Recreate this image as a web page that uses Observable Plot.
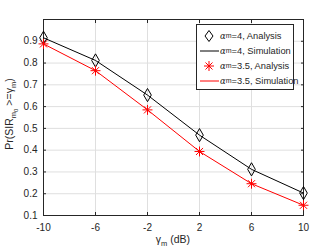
<!DOCTYPE html>
<html><head><meta charset="utf-8">
<script src="https://cdn.jsdelivr.net/npm/d3@7"></script>
<script src="https://cdn.jsdelivr.net/npm/@observablehq/plot@0.6"></script>
<style>
body{margin:0;background:#fff;}
#wrap{position:relative;width:333px;height:250px;font-family:"Liberation Sans",Arial,sans-serif;color:#262626;}
#legend{position:absolute;left:196px;top:24px;width:98px;height:66px;border:1px solid #262626;background:#fff;box-sizing:border-box;font-size:9.3px;}
.row{position:absolute;left:0;height:15px;display:flex;align-items:center;white-space:nowrap;}
.row svg{display:block;margin-right:1px;}
sub{font-size:7px;vertical-align:-2px;}
.al{font-style:italic;font-family:"DejaVu Serif",serif;font-size:8.5px;}
</style></head><body><div id="wrap"></div>
<script>
const gammaDb = [-10, -6, -2, 2, 6, 10];
const alpha4 = [0.916, 0.812, 0.653, 0.469, 0.312, 0.203];
const alpha35 = [0.888, 0.765, 0.585, 0.394, 0.246, 0.147];
const xTicks = [-10, -6, -2, 2, 6, 10];
const yTicks = [0.1, 0.2, 0.3, 0.4, 0.5, 0.6, 0.7, 0.8, 0.9];
const legendLabels = ["=4, Analysis", "=4, Simulation", "=3.5, Analysis", "=3.5, Simulation"];

const data = gammaDb.map((g, i) => ({g, a4: alpha4[i], a35: alpha35[i]}));
const axisCol = "#262626";
const plot = Plot.plot({
  width: 333, height: 250,
  marginLeft: 43, marginRight: 30, marginTop: 19, marginBottom: 35,
  style: {fontFamily: "Liberation Sans, Arial, sans-serif", fontSize: "10px", color: axisCol, background: "#fff"},
  x: {domain: [-10, 10]},
  y: {domain: [0.1, 1]},
  marks: [
    Plot.gridX(xTicks, {stroke: "#dfdfdf", strokeOpacity: 1}),
    Plot.gridY(yTicks, {stroke: "#dfdfdf", strokeOpacity: 1}),
    Plot.axisX(xTicks, {tickSize: -3, tickPadding: 11, label: null, tickFormat: d => String(d), stroke: axisCol}),
    Plot.axisX(xTicks, {anchor: "top", tickSize: -3, tickFormat: () => "", label: null, stroke: axisCol}),
    Plot.axisY(yTicks, {tickSize: -3, tickPadding: 9, label: null, tickFormat: d => d.toFixed(1), stroke: axisCol}),
    Plot.axisY(yTicks, {anchor: "right", tickSize: -3, tickFormat: () => "", label: null, stroke: axisCol}),
    Plot.frame({stroke: axisCol}),
    Plot.line(data, {x: "g", y: "a4", stroke: "#000", strokeWidth: 1}),
    Plot.line(data, {x: "g", y: "a35", stroke: "#ff0000", strokeWidth: 1}),
    Plot.dot(data, {x: "g", y: "a4", symbol: "diamond", r: 4, stroke: "#000", fill: "none", strokeWidth: 1}),
    Plot.dot(data, {x: "g", y: "a35", symbol: "plus", r: 3.3, stroke: "#ff0000", strokeWidth: 1}),
    Plot.dot(data, {x: "g", y: "a35", symbol: "times", r: 3.3, stroke: "#ff0000", strokeWidth: 1})
  ]
});
const svg = d3.select(plot);
// y label
const yl = svg.append("text").attr("transform", "translate(13,114) rotate(-90)")
  .attr("text-anchor", "middle").attr("font-size", 10.5).attr("fill", axisCol);
yl.append("tspan").text("Pr(SIR");
yl.append("tspan").attr("font-size", 7.5).attr("dy", 3).text("m");
yl.append("tspan").attr("font-size", 6).attr("dy", 2).text("0");
yl.append("tspan").attr("dy", -5).text(" >=");
yl.append("tspan").text("\u03b3");
yl.append("tspan").attr("font-size", 7.5).attr("dy", 3).text("m");
yl.append("tspan").attr("dy", -3).text(")");
// x label
const xl = svg.append("text").attr("x", 173).attr("y", 243)
  .attr("text-anchor", "middle").attr("font-size", 10.5).attr("fill", axisCol);
xl.append("tspan").text("\u03b3");
xl.append("tspan").attr("font-size", 7.5).attr("dy", 3).text("m");
xl.append("tspan").attr("dy", -3).text(" (dB)");

const wrap = document.getElementById("wrap");
wrap.appendChild(plot);
const leg = document.createElement("div");
leg.id = "legend";
const markers = [
  '<svg width="22" height="14"><path d="M12,1.5 L16,7 L12,12.5 L8,7 Z" fill="none" stroke="#000"/></svg>',
  '<svg width="22" height="14"><line x1="3" y1="7" x2="22" y2="7" stroke="#000"/></svg>',
  '<svg width="22" height="14"><g stroke="#f00"><line x1="12" y1="2" x2="12" y2="12"/><line x1="7" y1="7" x2="17" y2="7"/><line x1="8.5" y1="3.5" x2="15.5" y2="10.5"/><line x1="8.5" y1="10.5" x2="15.5" y2="3.5"/></g></svg>',
  '<svg width="22" height="14"><line x1="3" y1="7" x2="22" y2="7" stroke="#f00"/></svg>'
];
legendLabels.forEach((t, i) => {
  const r = document.createElement("div");
  r.className = "row";
  r.style.top = (3 + i * 15) + "px";
  r.innerHTML = markers[i] + '<span class="al">\u03b1</span><sub>m</sub>' + t;
  leg.appendChild(r);
});
wrap.appendChild(leg);
</script></body></html>
